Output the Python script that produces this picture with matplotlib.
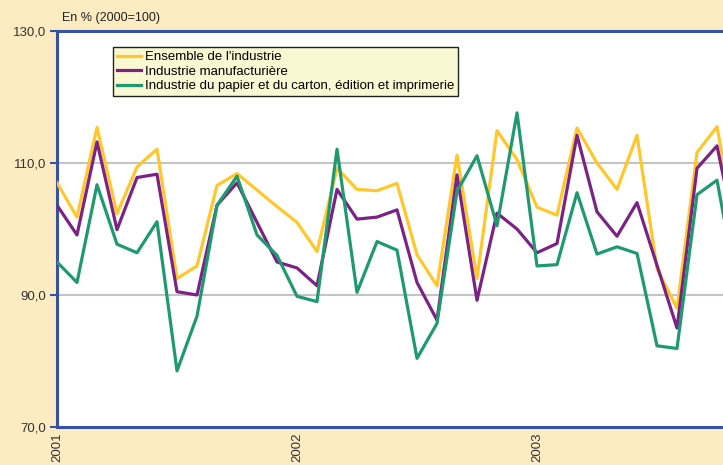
import matplotlib.pyplot as plt
import numpy as np

plt.rcParams['font.family'] = ['Liberation Sans', 'DejaVu Sans']

# Monthly indices, Jan 2001 onwards (base 2000=100)
years = ["2001", "2002", "2003"]
ensemble = [107.0, 101.8, 115.4, 102.3, 109.4, 112.1, 92.5, 94.4, 106.6, 108.4,
            105.9, 103.4, 101.0, 96.6, 109.2, 106.0, 105.8, 106.9, 96.1, 91.4,
            111.2, 92.5, 114.9, 110.5, 103.3, 102.1, 115.3, 110.0, 106.0, 114.2,
            94.0, 88.0, 111.6, 115.5, 99.0]
manuf = [103.6, 99.1, 113.2, 99.9, 107.8, 108.3, 90.5, 90.0, 103.6, 107.0,
         101.0, 95.0, 94.1, 91.4, 106.0, 101.5, 101.8, 102.9, 91.9, 86.2,
         108.2, 89.2, 102.4, 100.0, 96.4, 97.8, 114.2, 102.6, 98.9, 104.0,
         94.5, 85.0, 109.2, 112.6, 98.0]
papier = [95.0, 91.9, 106.7, 97.7, 96.4, 101.1, 78.5, 86.8, 103.6, 108.0,
          99.1, 96.0, 89.8, 89.0, 112.1, 90.4, 98.1, 96.8, 80.4, 85.7,
          105.7, 111.1, 100.5, 117.6, 94.4, 94.6, 105.5, 96.2, 97.3, 96.3,
          82.3, 81.9, 105.2, 107.4, 91.0]

bg = "#FDEBC1"
blue = "#3552A3"

fig = plt.figure(figsize=(7.23, 4.65), dpi=100, facecolor=bg)
ax = fig.add_axes([57/723, 38/465, 666/723, 396/465])
ax.set_facecolor("white")

x = np.arange(len(ensemble))
ax.plot(x, ensemble, color="#FFC72C", lw=2.3, label="Ensemble de l'industrie", zorder=3)
ax.plot(x, manuf, color="#7B2384", lw=2.3, label="Industrie manufacturière", zorder=3)
ax.plot(x, papier, color="#1F9A70", lw=2.3,
        label="Industrie du papier et du carton, édition et imprimerie", zorder=3)

ax.set_xlim(0, 33.3)
ax.set_ylim(70, 130)
ax.set_yticks([70, 90, 110, 130])
ax.set_yticklabels(["70,0", "90,0", "110,0", "130,0"])
ax.set_xticks([0, 12, 24])
ax.set_xticklabels(years, rotation=90)
ax.tick_params(axis="y", colors=blue, labelcolor="#333333", labelsize=9.5, length=5, width=1.5, pad=3)
ax.tick_params(axis="x", length=0, labelcolor="#333333", labelsize=9.5, pad=4)
ax.grid(axis="y", color="#C4C4C4", lw=1.5)
ax.set_axisbelow(True)

for s in ["left", "bottom", "top"]:
    ax.spines[s].set_color(blue)
    ax.spines[s].set_linewidth(2.2)
ax.spines["right"].set_visible(False)

fig.text(62/723, 1 - 18/465, "En % (2000=100)", fontsize=9, color="#222222", va="center")

leg = ax.legend(loc="upper left", bbox_to_anchor=(113/723, 1 - 47/465),
                bbox_transform=fig.transFigure, fontsize=9.5, frameon=True,
                fancybox=False, handlelength=1.8, handletextpad=0.3,
                labelspacing=0.18, borderpad=0.3, borderaxespad=0)
leg.get_frame().set_facecolor("#FAF8D2")
leg.get_frame().set_edgecolor("#222222")
leg.get_frame().set_linewidth(1)
leg.get_frame().set_alpha(1)

plt.savefig("out.png", dpi=100, facecolor=bg)
